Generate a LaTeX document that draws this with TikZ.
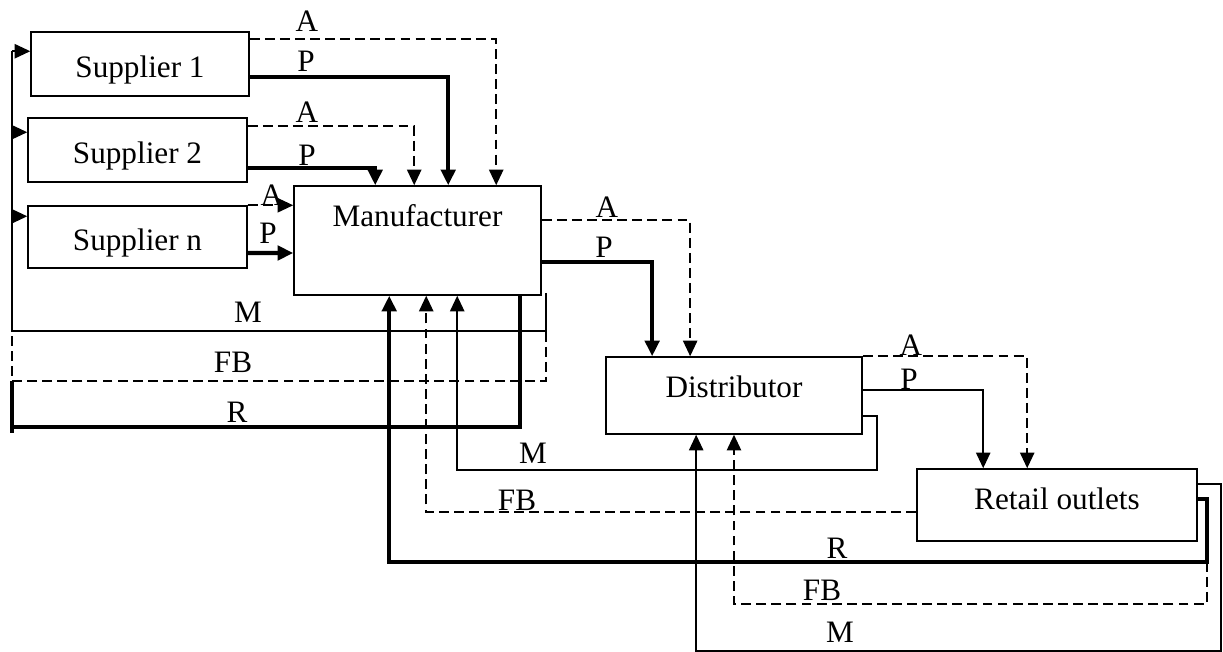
\documentclass[tikz,border=0pt]{standalone}
\usepackage{fontspec}
\setmainfont{Liberation Serif}
\usetikzlibrary{arrows.meta, calc}

\begin{document}
\begin{tikzpicture}[x=0.3846pt, y=-0.3846pt,
                box/.style={rectangle,
                draw,
                line width=0.6pt,
                inner sep=0pt,
                font=\fontsize{12}{14}\selectfont},
                sbox/.style={box, text height=10.5pt, text depth=0pt},
                lbl/.style={inner sep=0pt, font=\fontsize{12}{14}\selectfont},
                ln/.style={line width=0.6pt},
                dln/.style={line width=0.6pt, dash pattern=on 3.8pt off 2pt},
                tln/.style={line width=1.6pt},
                arr/.style={-{Triangle[length=6pt, width=5.5pt]}}]
                \useasboundingbox (0,0) rectangle (1223,652);
                \node[sbox, minimum width=83.8pt, minimum height=24.6pt] (sup1) at (140,64) {Supplier 1};
                \node[sbox, minimum width=84.2pt, minimum height=24.6pt] (sup2) at (137.5,150) {Supplier 2};
                \node[sbox, minimum width=84.2pt, minimum height=23.8pt] (supn) at (137.5,237) {Supplier n};
                \node[box, minimum width=95pt, minimum height=41.9pt,
                      text height=8.5pt, text depth=19pt] (man) at (417.5,240.5) {Manufacturer};
                \node[box, minimum width=98.5pt, minimum height=29.6pt,
                      text height=8.2pt, text depth=7pt] (dis) at (734,395.5) {Distributor};
                \node[box, minimum width=107.7pt, minimum height=27.7pt,
                      text height=8.2pt, text depth=4.4pt] (ret) at (1057,505) {Retail outlets};
                \coordinate (busM) at (12,331);
                \coordinate (busFB) at (12,381);
                \coordinate (busR) at (12,427);
                \draw[ln] ($(man.south east)+(4,-3)$) |- (busM) -- ($(busM |- sup1.north)+(0,20)$);
                \draw[ln, arr] ($(busM |- sup1.north)+(0,20)$) -- ($(sup1.north west)+(0,20)$);
                \draw[ln, arr] ($(busM |- sup2.north)+(0,15)$) -- ($(sup2.north west)+(0,15)$);
                \draw[ln, arr] ($(busM |- supn.north)+(0,11)$) -- ($(supn.north west)+(0,11)$);
                \draw[dln] ($(man.south east)+(4,36)$) |- (busFB) -- (busM);
                \draw[tln] ($(man.south east)+(-22,0)$) |- (busR);
                \draw[tln] ($(busR)+(0,6)$) -- (busFB);
                \draw[dln, arr] ($(sup1.north east)+(0,8)$) -| ($(man.north west)+(203,0)$);
                \draw[tln, arr] ($(sup1.east)+(0,13)$) -| ($(man.north west)+(155,0)$);
                \draw[dln, arr] ($(sup2.north east)+(0,9)$) -| ($(man.north west)+(121,0)$);
                \draw[tln, arr] ($(sup2.east)+(0,18)$) -| ($(man.north west)+(82,0)$);
                \draw[dln, arr] (supn.north east) -- (supn.north east -| man.west);
                \draw[tln, arr] ($(supn.east)+(0,16)$) -- ($(man.west)+(0,12.5)$);
                \draw[dln, arr] ($(man.north east)+(0,35)$) -| ($(dis.north west)+(85,0)$);
                \draw[tln, arr] ($(man.north east)+(0,77)$) -| ($(dis.north west)+(47,0)$);
                \draw[dln, arr] (dis.north east) -| ($(ret.north west)+(111,0)$);
                \draw[ln, arr] ($(dis.north east)+(0,34)$) -| ($(ret.north west)+(67,0)$);
                \draw[ln, arr] ($(dis.north east)+(0,60)$) -| ($(dis.south east)+(14,35)$) -| ($(man.south west)+(164,0)$);
                \draw[dln, arr] ($(ret.west)+(0,7)$) -| ($(man.south west)+(133,0)$);
                \draw[tln, arr] ($(ret.east)+(0,-6)$) -| ($(ret.south east)+(9,20)$) -| ($(man.south west)+(96,0)$);
                \draw[dln, arr] ($(ret.south east)+(9,20)$) |- ($(dis.south)+(0,169)$) -- (dis.south);
                \draw[ln, arr] ($(ret.east)+(0,-21)$) -| ($(ret.south east)+(23,109)$) -| ($(dis.south west)+(91,0)$);
                \node[lbl] (a1) at (307,21) {A};
                \node[lbl] (p1) at (306,61) {P};
                \node[lbl] (a2) at (307,112) {A};
                \node[lbl] (p2) at (307,155) {P};
                \node[lbl] (an) at (272,195) {A};
                \node[lbl] (pn) at (268,233) {P};
                \node[lbl] (am) at (607,207) {A};
                \node[lbl] (pm) at (604,247) {P};
                \node[lbl] (ad) at (911,345) {A};
                \node[lbl] (pd) at (909,379) {P};
                \node[lbl] (m1) at (248,312) {M};
                \node[lbl] (fb1) at (233,362) {FB};
                \node[lbl] (r1) at (237,412) {R};
                \node[lbl] (m2) at (533,453) {M};
                \node[lbl] (fb2) at (517,500) {FB};
                \node[lbl] (r3) at (837,548) {R};
                \node[lbl] (fb3) at (822,590) {FB};
                \node[lbl] (m3) at (840,632) {M};
            \end{tikzpicture}
\end{document}
